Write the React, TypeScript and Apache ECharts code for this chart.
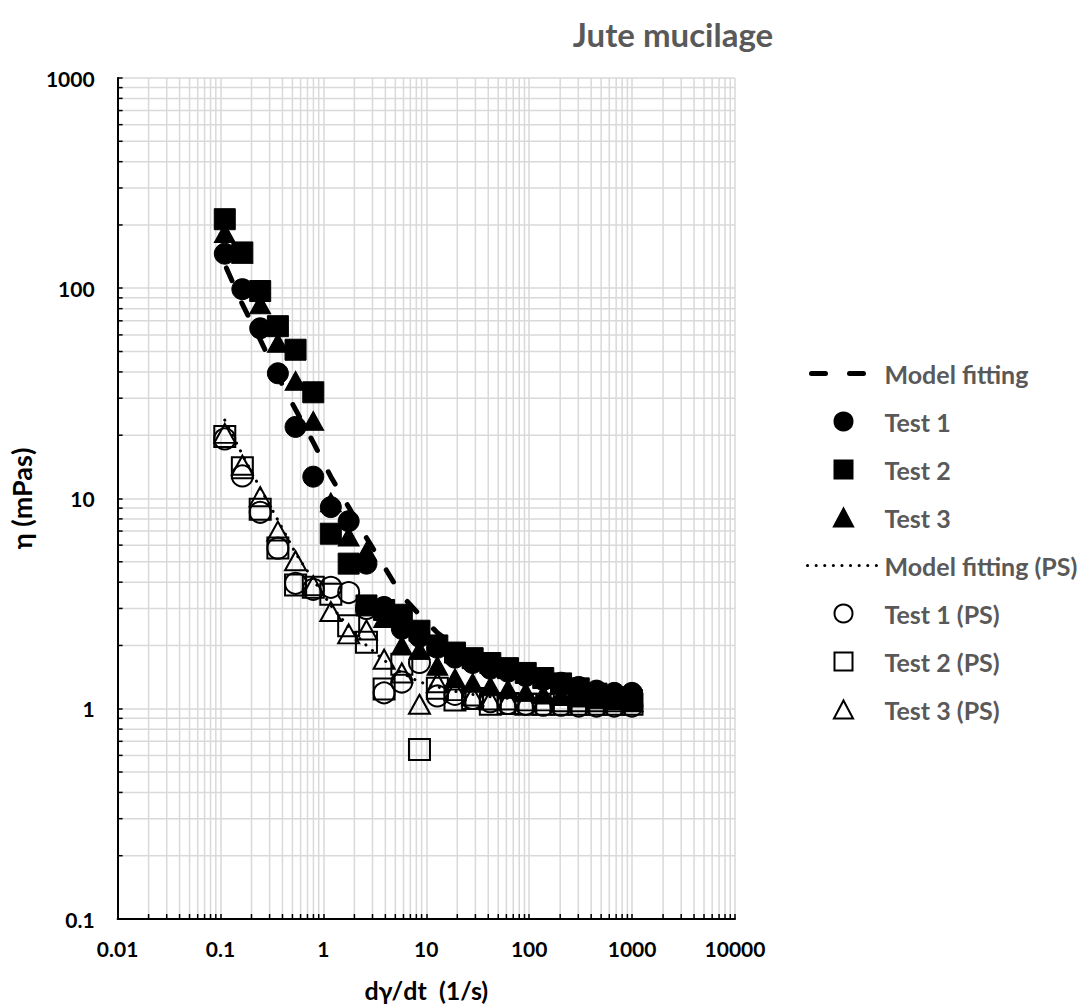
import React, { useEffect, useRef } from "react";
import * as echarts from "echarts";

// Shear rate steps shared by every measurement series (1/s)
const SHEAR_RATE = [
  0.11, 0.163, 0.243, 0.361, 0.536, 0.797, 1.18, 1.76, 2.62, 3.89, 5.78, 8.58,
  12.8, 19.0, 28.2, 41.9, 62.2, 92.5, 137, 204, 303, 451, 671, 997,
];

// Viscosity (mPas) – jute mucilage
const MODEL = [
  130, 84, 57, 38, 26.5, 18.5, 12.7, 9.1, 6.5, 4.75, 3.45, 2.8, 2.3, 1.98, 1.74,
  1.58, 1.46, 1.38, 1.31, 1.26, 1.22, 1.2, 1.18, 1.17,
];
const TEST_1 = [
  146, 99, 64.5, 39.4, 21.9, 12.7, 9.1, 7.8, 4.9, 3.05, 2.4, 2.2, 1.95, 1.75,
  1.65, 1.55, 1.5, 1.43, 1.37, 1.33, 1.27, 1.22, 1.19, 1.19,
];
const TEST_2 = [
  213, 148, 97, 66, 51, 32, 6.8, 4.9, 3.1, 2.95, 2.8, 2.35, 2.0, 1.85, 1.74,
  1.65, 1.56, 1.48, 1.4, 1.32, 1.25, 1.18, 1.13, 1.1,
];
const TEST_3 = [
  183, 146, 84, 55, 36.3, 23.4, 9.6, 6.6, 5.6, 2.7, 2.0, 1.9, 1.6, 1.4, 1.33,
  1.28, 1.24, 1.2, 1.17, 1.15, 1.13, 1.11, 1.1, 1.1,
];

// Viscosity (mPas) – jute mucilage (PS)
const MODEL_PS = [
  23.6, 16.2, 11.2, 7.9, 5.5, 4.1, 3.1, 2.45, 2.0, 1.7, 1.48, 1.34, 1.27, 1.21,
  1.17, 1.14, 1.12, 1.1, 1.09, 1.08, 1.08, 1.07, 1.07, 1.07,
];
const TEST_1_PS = [
  19.2, 12.8, 8.6, 5.8, 3.95, 3.7, 3.78, 3.57, 3.0, 1.19, 1.34, 1.66, 1.15,
  1.17, 1.12, 1.08, 1.06, 1.05, 1.04, 1.04, 1.03, 1.03, 1.03, 1.03,
];
const TEST_2_PS = [
  19.7, 14.0, 8.9, 5.82, 3.88, 3.78, 3.5, 2.48, 2.07, 1.24, 1.63, 0.64, 1.25,
  1.1, 1.12, 1.05, 1.06, 1.05, 1.05, 1.05, 1.05, 1.05, 1.05, 1.05,
];
const TEST_3_PS = [
  20.4, 14.4, 10.2, 7.0, 5.06, 3.85, 2.9, 2.27, 2.37, 1.72, 1.48, 1.05, 1.33,
  1.22, 1.15, 1.1, 1.1, 1.09, 1.09, 1.08, 1.08, 1.08, 1.08, 1.08,
];

// Axis ticks
const X_TICK_LABELS = ["0.01", "0.1", "1", "10", "100", "1000", "10000"];
const Y_TICK_LABELS = ["0.1", "1", "10", "100", "1000"];
const X_DECADES = [0.01, 0.1, 1, 10, 100, 1000];
const Y_DECADES = [0.1, 1, 10, 100];
const MINOR_MULTIPLIERS = [2, 3, 4, 5, 6, 7, 8, 9];

const X_MIN = 0.01;
const X_MAX = 10000;
const Y_MIN = 0.1;
const Y_MAX = 1000;

const FONT = "Lato";
const GRID_COLOR = "#d9d9d9";
const LEGEND_TEXT = "#595959";

// Legend glyphs that keep their aspect ratio inside the wide legend slot
const ICON_SQUARE = "path://M0,0H10V10H0Z";
const ICON_TRIANGLE = "path://M5,0L10,9.4L0,9.4Z";

// Line styles of the two fitted curves
const MODEL_LINE = { color: "#000", width: 5, type: [14, 24], dashOffset: -4, cap: "round" };
const MODEL_PS_LINE = { color: "#000", width: 3, type: [0.1, 8.5], cap: "round" };

const pairs = (ys: number[]) => SHEAR_RATE.map((x, i) => [x, ys[i]]);

const minorValues = (decades: number[]) =>
  decades.flatMap((d) => MINOR_MULTIPLIERS.map((m) => Number((m * d).toPrecision(3))));

const MINOR_X = minorValues(X_DECADES);
const MINOR_Y = minorValues(Y_DECADES);

function buildOption(): echarts.EChartsOption {
  const filled = { color: "#000", borderColor: "#000", borderWidth: 1, opacity: 1 };
  const hollow = { color: "rgba(0,0,0,0)", borderColor: "#000", borderWidth: 2, opacity: 1 };
  const noSymbol = { opacity: 0 };

  return {
    animation: false,
    backgroundColor: "#fff",
    title: {
      text: "Jute mucilage",
      left: 668,
      top: 12,
      textAlign: "center",
      textStyle: { fontFamily: FONT, fontWeight: "bold", fontSize: 33, color: LEGEND_TEXT },
    },
    grid: { left: 115, right: 349, top: 78, bottom: 88, containLabel: false },
    legend: {
      orient: "vertical",
      left: 805,
      top: 361,
      padding: 0,
      itemWidth: 72,
      itemHeight: 18,
      itemGap: 23,
      selectedMode: false,
      data: [
        { name: "Model fitting", itemStyle: noSymbol, lineStyle: MODEL_LINE },
        { name: "Test 1", icon: "circle" },
        { name: "Test 2", icon: ICON_SQUARE },
        { name: "Test 3", icon: ICON_TRIANGLE },
        { name: "Model fitting (PS)", itemStyle: noSymbol, lineStyle: MODEL_PS_LINE },
        { name: "Test 1 (PS)", icon: "circle" },
        { name: "Test 2 (PS)", icon: ICON_SQUARE },
        { name: "Test 3 (PS)", icon: ICON_TRIANGLE },
      ],
      textStyle: {
        fontFamily: FONT,
        fontWeight: "bold",
        fontSize: 25,
        lineHeight: 25,
        color: LEGEND_TEXT,
      },
    },
    xAxis: {
      type: "log",
      logBase: 10,
      min: X_MIN,
      max: X_MAX,
      name: "dγ/dt  (1/s)",
      nameLocation: "middle",
      nameGap: 58,
      nameTextStyle: { fontFamily: FONT, fontWeight: "bold", fontSize: 25, color: "#000" },
      axisLine: { onZero: false, lineStyle: { color: "#000", width: 2 } },
      axisTick: { inside: true, length: 5, lineStyle: { color: "#000", width: 1.5 } },
      axisLabel: {
        margin: 19,
        fontFamily: FONT,
        fontWeight: "bold",
        fontSize: 21,
        color: "#000",
        formatter: (v: number) => X_TICK_LABELS[Math.round(Math.log10(v)) + 2],
      },
      splitLine: { show: true, lineStyle: { color: GRID_COLOR, width: 1.5 } },
    },
    yAxis: {
      type: "log",
      logBase: 10,
      min: Y_MIN,
      max: Y_MAX,
      name: "η (mPas)",
      nameLocation: "middle",
      nameGap: 72,
      nameTextStyle: { fontFamily: FONT, fontWeight: "bold", fontSize: 27, color: "#000" },
      axisLine: { lineStyle: { color: "#000", width: 2 } },
      axisTick: { inside: true, length: 5, lineStyle: { color: "#000", width: 1.5 } },
      axisLabel: {
        margin: 23,
        fontFamily: FONT,
        fontWeight: "bold",
        fontSize: 21,
        color: "#000",
        formatter: (v: number) => Y_TICK_LABELS[Math.round(Math.log10(v)) + 1],
      },
      splitLine: { show: true, lineStyle: { color: GRID_COLOR, width: 1.5 } },
    },
    series: [
      // Minor grid lines and inside ticks at 2..9 of every decade
      {
        type: "custom",
        silent: true,
        z: -1,
        data: MINOR_X.map((v) => [v, Y_MIN]),
        renderItem: (_p: any, api: any) => {
          const v = api.value(0);
          const bottom = api.coord([v, Y_MIN]);
          const top = api.coord([v, Y_MAX]);
          return {
            type: "group",
            children: [
              {
                type: "line",
                shape: { x1: bottom[0], y1: bottom[1], x2: top[0], y2: top[1] },
                style: { stroke: GRID_COLOR, lineWidth: 1.5 },
              },
              {
                type: "line",
                shape: { x1: bottom[0], y1: bottom[1], x2: bottom[0], y2: bottom[1] - 5 },
                style: { stroke: "#000", lineWidth: 1.5 },
              },
            ],
          };
        },
      },
      {
        type: "custom",
        silent: true,
        z: -1,
        data: MINOR_Y.map((v) => [X_MIN, v]),
        renderItem: (_p: any, api: any) => {
          const v = api.value(1);
          const left = api.coord([X_MIN, v]);
          const right = api.coord([X_MAX, v]);
          return {
            type: "group",
            children: [
              {
                type: "line",
                shape: { x1: left[0], y1: left[1], x2: right[0], y2: right[1] },
                style: { stroke: GRID_COLOR, lineWidth: 1.5 },
              },
              {
                type: "line",
                shape: { x1: left[0], y1: left[1], x2: left[0] + 5, y2: left[1] },
                style: { stroke: "#000", lineWidth: 1.5 },
              },
            ],
          };
        },
      },
      {
        name: "Model fitting",
        type: "line",
        data: pairs(MODEL),
        symbol: "none",
        itemStyle: { color: "#000" },
        lineStyle: MODEL_LINE,
      },
      {
        name: "Test 1",
        type: "scatter",
        data: pairs(TEST_1),
        symbol: "circle",
        symbolSize: 21,
        itemStyle: filled,
      },
      {
        name: "Test 2",
        type: "scatter",
        data: pairs(TEST_2),
        symbol: "rect",
        symbolSize: 21,
        itemStyle: filled,
      },
      {
        name: "Test 3",
        type: "scatter",
        data: pairs(TEST_3),
        symbol: "triangle",
        symbolSize: [21, 19],
        itemStyle: filled,
      },
      {
        name: "Model fitting (PS)",
        type: "line",
        data: pairs(MODEL_PS),
        symbol: "none",
        itemStyle: { color: "#000" },
        lineStyle: MODEL_PS_LINE,
      },
      {
        name: "Test 1 (PS)",
        type: "scatter",
        data: pairs(TEST_1_PS),
        symbol: "circle",
        symbolSize: 21,
        itemStyle: hollow,
      },
      {
        name: "Test 2 (PS)",
        type: "scatter",
        data: pairs(TEST_2_PS),
        symbol: "rect",
        symbolSize: 21,
        itemStyle: hollow,
      },
      {
        name: "Test 3 (PS)",
        type: "scatter",
        data: pairs(TEST_3_PS),
        symbol: "triangle",
        symbolSize: [21, 19],
        itemStyle: hollow,
      },
    ],
  } as echarts.EChartsOption;
}

export default function App() {
  const ref = useRef<HTMLDivElement>(null);

  useEffect(() => {
    if (!ref.current) return;
    const chart = echarts.init(ref.current, undefined, { renderer: "svg" });
    chart.setOption(buildOption());
    return () => chart.dispose();
  }, []);

  return (
    <div
      ref={ref}
      style={{ position: "absolute", left: 0, top: 0, width: 1084, height: 1007 }}
    />
  );
}
